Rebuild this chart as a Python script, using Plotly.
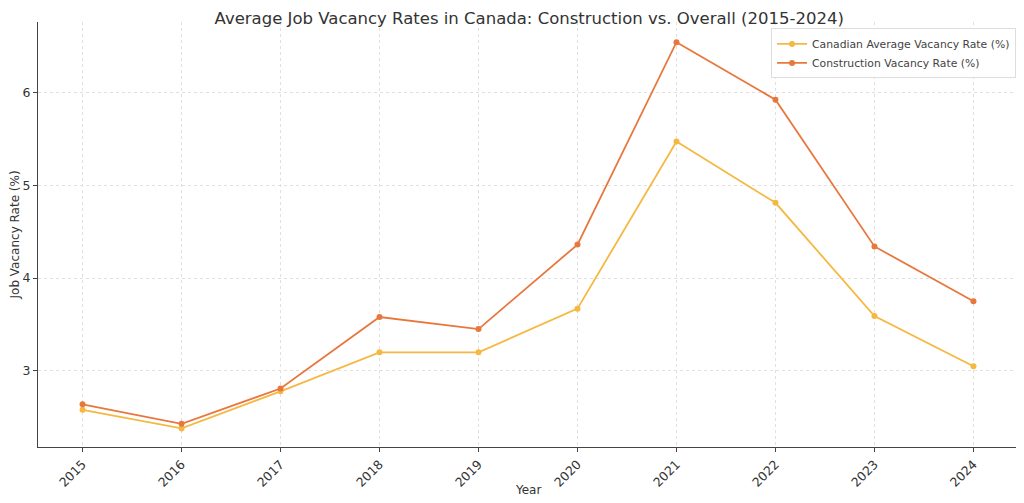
import plotly.graph_objects as go

years = [2015, 2016, 2017, 2018, 2019, 2020, 2021, 2022, 2023, 2024]
canadian_avg = [2.58, 2.38, 2.78, 3.20, 3.20, 3.67, 5.47, 4.81, 3.59, 3.05]
construction = [2.64, 2.43, 2.81, 3.58, 3.45, 4.36, 6.54, 5.92, 4.34, 3.75]

yellow = "#F5B841"
orange = "#E8773E"
font = "DejaVu Sans"

fig = go.Figure()
fig.add_trace(go.Scatter(x=years, y=canadian_avg, mode="lines+markers",
                         name="Canadian Average Vacancy Rate (%)",
                         line=dict(color=yellow, width=1.8),
                         marker=dict(color=yellow, size=6)))
fig.add_trace(go.Scatter(x=years, y=construction, mode="lines+markers",
                         name="Construction Vacancy Rate (%)",
                         line=dict(color=orange, width=1.8),
                         marker=dict(color=orange, size=6)))

fig.update_layout(
    width=1016, height=495,
    margin=dict(l=30, r=6, t=14, b=56, autoexpand=False),
    paper_bgcolor="white", plot_bgcolor="white",
    font=dict(family=font, size=12, color="#333333"),
    title=dict(text="Average Job Vacancy Rates in Canada: Construction vs. Overall (2015-2024)",
               x=0.513, xanchor="center", y=0.992, yanchor="top",
               font=dict(family=font, size=16.5, color="#333333")),
    legend=dict(x=0.998, y=0.985, xanchor="right", yanchor="top",
                bgcolor="rgba(255,255,255,0.9)", bordercolor="#dddddd", borderwidth=1,
                font=dict(family=font, size=10.8, color="#444444"),
                tracegroupgap=0, itemwidth=30),
    showlegend=True,
)
fig.update_xaxes(
    range=[2014.55, 2024.45], tickmode="array", tickvals=years,
    ticktext=[str(y) for y in years], tickangle=-45, automargin=False,
    tickfont=dict(family=font, size=12.5, color="#333333"),
    showgrid=True, gridcolor="#e0e0e0", griddash="dot", gridwidth=1,
    showline=True, linecolor="#444444", linewidth=1.3,
    ticks="outside", ticklen=4, tickcolor="#444444",
    zeroline=False,
)
fig.update_yaxes(
    range=[2.18, 6.757], tickvals=[3, 4, 5, 6], automargin=False,
    tickfont=dict(family=font, size=12.5, color="#333333"),
    showgrid=True, gridcolor="#e0e0e0", griddash="dot", gridwidth=1,
    showline=True, linecolor="#444444", linewidth=1.3,
    ticks="outside", ticklen=4, tickcolor="#444444",
    zeroline=False,
)
fig.add_annotation(text="Year", xref="paper", yref="paper", x=0.5, y=-0.101,
                   xanchor="center", yanchor="middle", showarrow=False,
                   font=dict(family=font, size=12, color="#333333"))
fig.add_annotation(text="Job Vacancy Rate (%)", xref="paper", yref="paper",
                   x=-0.0235, y=0.5, xanchor="center", yanchor="middle",
                   textangle=-90, showarrow=False,
                   font=dict(family=font, size=12, color="#333333"))

fig.write_html("out.html")
